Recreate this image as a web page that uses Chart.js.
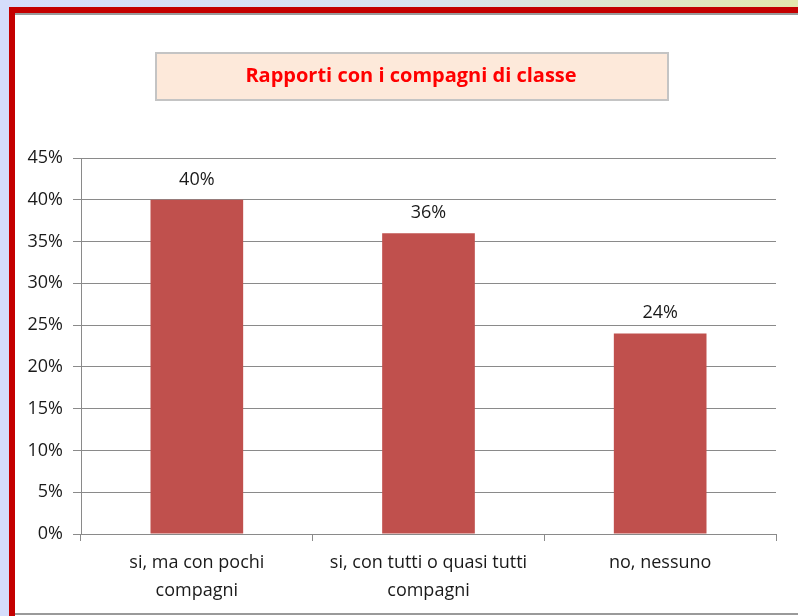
<!DOCTYPE html>
<html>
<head>
<meta charset="utf-8">
<script src="https://cdn.jsdelivr.net/npm/chart.js@4"></script>
<style>
  html, body { margin: 0; padding: 0; background: #d5ddfb; }
  #wrap { width: 798px; height: 616px; position: relative; }
</style>
</head>
<body>
<div id="wrap"><canvas id="mycanvas" width="798" height="616"></canvas></div>
<script>
var categories = [["si, ma con pochi", "compagni"], ["si, con tutti o quasi tutti", "compagni"], "no, nessuno"];
var values = [40, 36, 24];
var tickValues = [0, 5, 10, 15, 20, 25, 30, 35, 40, 45];
var chartTitle = "Rapporti con i compagni di classe";

var fontName = "'Open Sans', Lato, sans-serif";

// frame, title box and value labels
var framePlugin = {
  id: 'frame',
  beforeDraw: function (chart) {
    var c = chart.ctx;
    c.save();
    // top strip
    var g = c.createLinearGradient(0, 0, 798, 0);
    g.addColorStop(0, '#d5ddfb');
    g.addColorStop(0.55, '#d9e3ee');
    g.addColorStop(1, '#e3e7ad');
    c.fillStyle = g;
    c.fillRect(0, 0, 798, 8);
    c.fillStyle = '#d5ddfb';
    c.fillRect(0, 0, 9, 616);
    // red border
    c.fillStyle = '#c40000';
    c.fillRect(9, 7, 789, 6);
    c.fillRect(9, 7, 6, 609);
    // white page
    c.fillStyle = '#ffffff';
    c.fillRect(15, 13, 783, 603);
    c.fillStyle = '#9a9a9a';
    c.fillRect(15, 13, 783, 2);
    c.fillRect(15, 613, 783, 2);
    // title box
    c.fillStyle = '#fde9da';
    c.fillRect(155, 52, 514, 49);
    c.strokeStyle = '#c4c4c4';
    c.lineWidth = 2;
    c.strokeRect(156, 53, 512, 47);
    c.fillStyle = '#ff0000';
    c.font = "bold 20px " + fontName;
    c.textAlign = 'center';
    c.textBaseline = 'middle';
    c.fillText(chartTitle, 411, 76);
    c.restore();
  },
  afterDatasetsDraw: function (chart) {
    var c = chart.ctx;
    var meta = chart.getDatasetMeta(0);
    c.save();
    c.fillStyle = '#1a1a1a';
    c.font = "18px " + fontName;
    c.textAlign = 'center';
    c.textBaseline = 'alphabetic';
    meta.data.forEach(function (bar, i) {
      c.fillText(values[i] + '%', bar.x, bar.y - 15);
    });
    c.restore();
  }
};

var ctx = document.getElementById('mycanvas');
var barGraph = new Chart(ctx, {
  type: 'bar',
  data: {
    labels: categories,
    datasets: [{
      data: values,
      backgroundColor: '#c0504d',
      borderWidth: 0,
      categoryPercentage: 0.4,
      barPercentage: 1.0
    }]
  },
  options: {
    responsive: false,
    animation: false,
    layout: { padding: { left: 20, top: 158, right: 22, bottom: 0 } },
    plugins: {
      legend: { display: false },
      tooltip: { enabled: false }
    },
    scales: {
      x: {
        offset: true,
        grid: {
          offset: true,
          drawOnChartArea: false,
          drawTicks: true,
          tickLength: 7,
          color: '#8a8a8a'
        },
        border: { color: '#8a8a8a', width: 1 },
        ticks: {
          color: '#1a1a1a',
          font: { family: fontName, size: 18, lineHeight: 1.55 },
          maxRotation: 0,
          autoSkip: false,
          padding: 8
        },
        afterFit: function (scale) { scale.height = 616 - 534; }
      },
      y: {
        min: 0,
        max: 45,
        afterBuildTicks: function (scale) {
          scale.ticks = tickValues.map(function (v) { return { value: v }; });
        },
        grid: {
          color: '#8a8a8a',
          tickLength: 8,
          drawTicks: true
        },
        border: { color: '#8a8a8a', width: 1 },
        ticks: {
          color: '#1a1a1a',
          font: { family: fontName, size: 18 },
          padding: 10,
          callback: function (v) { return v + '%'; }
        },
        afterFit: function (scale) { scale.width = 81 - 20; }
      }
    }
  },
  plugins: [framePlugin]
});
</script>
</body>
</html>
